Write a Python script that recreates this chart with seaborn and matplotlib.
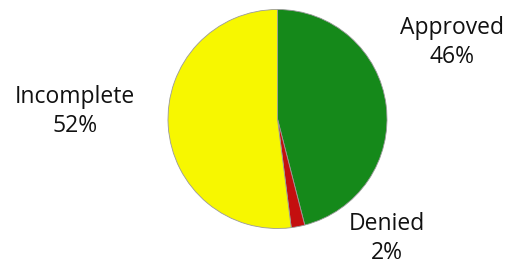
import matplotlib
matplotlib.use("Agg")
import matplotlib.pyplot as plt
import seaborn as sns

sns.set_theme(style="white")
plt.rcParams['font.family'] = ['Open Sans', 'DejaVu Sans']

categories = ["Approved", "Denied", "Incomplete"]
values = [46, 2, 52]
colors = ["#15891a", "#c40f0f", "#f7f700"]
label_pos = [(1.59, 0.70), (1.00, -1.09), (-1.85, 0.07)]

W, H = 511, 265
fig = plt.figure(figsize=(W / 100, H / 100), dpi=100)
cx, cy, r = 277.5, 119, 109.5
ax = fig.add_axes([(cx - r) / W, (H - cy - r) / H, 2 * r / W, 2 * r / H])

wedges, texts = ax.pie(values, colors=colors, startangle=90, counterclock=False,
                       labels=[f"{c}\n{v}%" for c, v in zip(categories, values)],
                       wedgeprops=dict(edgecolor="#9a9a9a", linewidth=0.6),
                       textprops=dict(fontsize=16.5, color="#111111"))
for t, (x, y) in zip(texts, label_pos):
    t.set_position((x, y))
    t.set_ha("center")
    t.set_va("center")
    t.set_linespacing(1.25)

ax.set_xlim(-1, 1)
ax.set_ylim(-1, 1)
ax.set_aspect("equal")
ax.axis("off")
fig.savefig("out.png", dpi=100)
